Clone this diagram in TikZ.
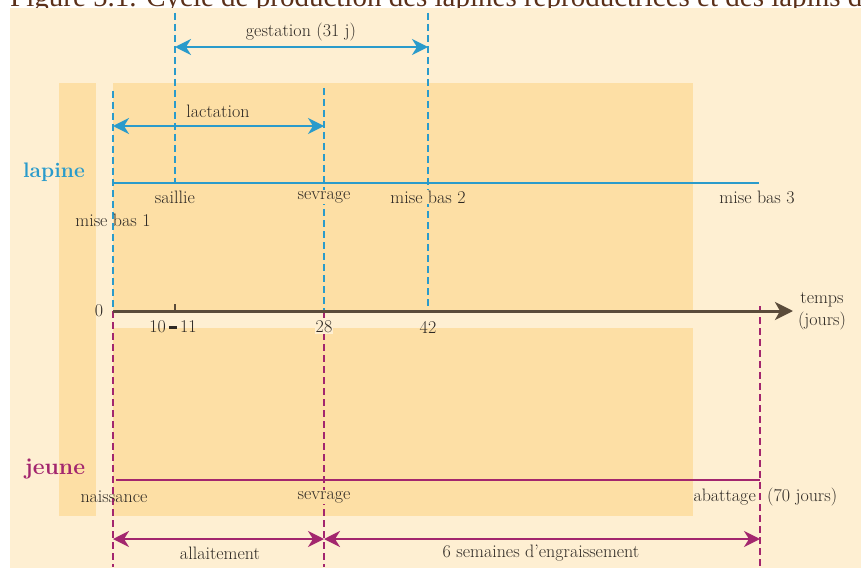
\documentclass[tikz,border=0pt]{standalone}
\usepackage{fontspec}
\newfontfamily\capfont{Liberation Serif}
\usetikzlibrary{arrows.meta}
\definecolor{bgl}{HTML}{FEEFD2}
\definecolor{bgd}{HTML}{FDDFA5}
\definecolor{lblue}{HTML}{2A9BCB}
\definecolor{mag}{HTML}{A3266E}
\definecolor{axc}{HTML}{5A4B3A}
\definecolor{txt}{HTML}{2E2924}
\definecolor{capc}{HTML}{5B3019}
\begin{document}
\begin{tikzpicture}[x=1pt,y=-1pt,
  lbl/.style={text=txt,font=\fontsize{18}{20}\selectfont,inner sep=1pt},
  lblf/.style={lbl,fill=bgd},
  bdash/.style={lblue,line width=1.3pt,dash pattern=on 7pt off 4pt},
  mdash/.style={mag,line width=1.3pt,dash pattern=on 7pt off 4pt},
  barrow/.style={lblue,line width=2pt,{Stealth[length=16pt,width=16pt,inset=5pt]}-{Stealth[length=16pt,width=16pt,inset=5pt]}},
  marrow/.style={mag,line width=2pt,{Stealth[length=16pt,width=16pt,inset=5pt]}-{Stealth[length=16pt,width=16pt,inset=5pt]}},
  title/.style={font=\fontsize{21}{23}\selectfont\bfseries,inner sep=0pt}
]
\useasboundingbox (0,0) rectangle (861,572);
\clip (0,0) rectangle (861,572);
% cropped caption
\node[anchor=base west,inner sep=0pt,text=capc,font=\capfont\fontsize{29}{31}\selectfont] (cap) at (10,6.5) {Figure 5.1. Cycle de production des lapines reproductrices et des lapins d'engraissement};
% backgrounds
\fill[bgl] (10,8) rectangle (861,568);
\fill[bgd] (59,83) rectangle (96,516);
\fill[bgd] (113,83) rectangle (693,311);
\fill[bgd] (113,328) rectangle (693,516);

% coordinates
\coordinate (a0t) at (113,91);
\coordinate (a0) at (113,311);
\coordinate (a0b) at (113,567);
\coordinate (sat) at (175,13);
\coordinate (sab) at (175,183);
\coordinate (svt) at (324,88);
\coordinate (sv) at (324,311);
\coordinate (svb) at (324,567);
\coordinate (mbt) at (428,13);
\coordinate (mb) at (428,311);
\coordinate (abt) at (760,306);
\coordinate (abb) at (760,567);
\coordinate (axend) at (793,311);
\coordinate (tk1) at (175,311);
\coordinate (tk2) at (175,304);

% dashed verticals
\draw[bdash] (a0t) -- (a0);
\draw[mdash] (a0) -- (a0b);
\draw[bdash] (sat) -- (sab);
\draw[bdash] (svt) -- (sv);
\draw[mdash] (sv) -- (svb);
\draw[bdash] (mbt) -- (mb);
\draw[mdash] (abt) -- (abb);

% arrows
\coordinate (g1) at (175,47); \coordinate (g2) at (428,47);
\draw[barrow] (g1) -- (g2);
\node[lbl] (gest) at (301,32) {gestation (31 j)};
\coordinate (l1) at (113,126); \coordinate (l2) at (324,126);
\draw[barrow] (l1) -- (l2);
\node[lbl] (lact) at (218,111) {lactation};

% lapine line
\coordinate (lp1) at (113,183); \coordinate (lp2) at (759,183);
\draw[lblue,line width=1.8pt] (lp1) -- (lp2);
\node[title,text=lblue] (lapine) at (54,172) {lapine};
\node[lbl] (saillie) at (175,197) {saillie};
\node[lblf] (sevr1) at (324,197) {sevrage};
\node[lblf] (mb2) at (428,197) {mise bas 2};
\node[lbl] (mb3) at (757,197) {mise bas 3};
\node[lbl] (mb1) at (113,220) {mise bas 1};

% axis
\draw[axc,line width=3pt,-{Stealth[length=18pt,width=18pt,inset=5pt]}] (a0) -- (axend);
\draw[axc,line width=1.2pt] (tk1) -- (tk2);
\node[lbl] (zero) at (99,311) {0};
\node[lbl] (d10) at (173,327) {10\,{\rule[0.22em]{0.45em}{0.15em}}\,11};
\node[lbl,fill=bgl] (d28) at (324,327) {28};
\node[lbl] (d42) at (428,327) {42};
\node[lbl,align=center,font=\fontsize{18}{22}\selectfont] (temps) at (822,311) {temps\\(jours)};

% jeune line
\coordinate (j1) at (116,480); \coordinate (j2) at (760,480);
\draw[mag,line width=1.8pt] (j1) -- (j2);
\node[title,text=mag,font=\fontsize{23}{25}\selectfont\bfseries] (jeune) at (55,469) {jeune};
\node[lbl] (nais) at (114,497) {naissance};
\node[lblf] (sevr2) at (324,497) {sevrage};
\node[lbl,anchor=east] (abat) at (757,497) {abattage};
\node[lbl,anchor=west] (jours70) at (766,497) {(70 jours)};

% bottom arrows
\coordinate (b1) at (113,539); \coordinate (b2) at (324,539); \coordinate (b3) at (760,539);
\draw[marrow] (b1) -- (b2);
\draw[marrow] (b2) -- (b3);
\node[lbl] (allait) at (220,553) {allaitement};
\node[lbl] (engr) at (541,553) {6 semaines d'engraissement};
\end{tikzpicture}
\end{document}
